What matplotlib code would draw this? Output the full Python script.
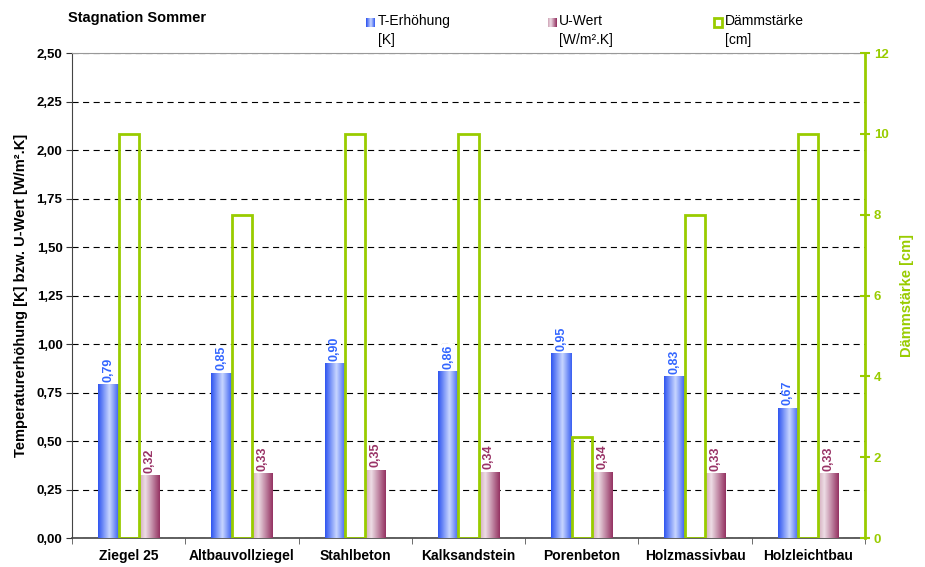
import numpy as np
import matplotlib
matplotlib.use('Agg')
import matplotlib.pyplot as plt
from matplotlib.colors import LinearSegmentedColormap
from matplotlib.patches import Rectangle
from matplotlib.ticker import FuncFormatter, MultipleLocator

plt.rcParams['font.family'] = ['Liberation Sans', 'DejaVu Sans']

# data
baustoffe = ['Ziegel 25', 'Altbauvollziegel', 'Stahlbeton', 'Kalksandstein',
             'Porenbeton', 'Holzmassivbau', 'Holzleichtbau']
t_erhoehung = [0.79, 0.85, 0.90, 0.86, 0.95, 0.83, 0.67]
u_wert = [0.32, 0.33, 0.35, 0.34, 0.34, 0.33, 0.33]
daemmstaerke = [10, 8, 10, 10, 2.5, 8, 10]

blue_text = '#3366ff'
maroon = '#993366'
green = '#99cc00'

blue_cmap = LinearSegmentedColormap.from_list(
    'blau', [(0, '#2f55f0'), (0.55, '#c8d6ff'), (1, '#3a60f2')])
maroon_cmap = LinearSegmentedColormap.from_list(
    'bordeaux', [(0, '#d2a8ba'), (0.3, '#eddde5'), (1, '#943262')])

fig = plt.figure(figsize=(9.25, 5.67), dpi=100)
ax = fig.add_axes([0.078, 0.051, 0.857, 0.8555])
ax2 = ax.twinx()

x = np.arange(len(baustoffe))
w = 0.18


def gradient_bars(axis, xs, vals, cmap):
    bars = axis.bar(xs, vals, w, color='none', linewidth=0, zorder=3)
    grad = np.linspace(0, 1, 64).reshape(1, -1)
    for b in bars:
        x0, y0 = b.get_x(), b.get_y()
        axis.imshow(grad, cmap=cmap, aspect='auto', zorder=3,
                    extent=(x0, x0 + b.get_width(), y0, y0 + b.get_height()),
                    interpolation='bilinear')
    return bars


gradient_bars(ax, x - w, t_erhoehung, blue_cmap)
gradient_bars(ax, x + w, u_wert, maroon_cmap)

label_box = dict(facecolor='white', edgecolor='none', pad=0.3)
for xi, v in zip(x - w, t_erhoehung):
    ax.text(xi, v + 0.014, f'{v:.2f}'.replace('.', ','), rotation=90,
            ha='center', va='bottom', fontsize=9, fontweight='bold',
            color=blue_text, zorder=5, bbox=label_box)
for xi, v in zip(x + w, u_wert):
    ax.text(xi, v + 0.014, f'{v:.2f}'.replace('.', ','), rotation=90,
            ha='center', va='bottom', fontsize=9, fontweight='bold',
            color=maroon, zorder=5, bbox=label_box)

ax2.bar(x, daemmstaerke, w, facecolor='none', edgecolor=green, linewidth=2)

# left axis
ax.set_xlim(-0.5, len(baustoffe) - 0.5)
ax.set_ylim(0, 2.5)
ax.yaxis.set_major_locator(MultipleLocator(0.25))
ax.yaxis.set_major_formatter(FuncFormatter(lambda v, p: f'{v:.2f}'.replace('.', ',')))
ax.grid(axis='y', color='black', linestyle=(0, (5.5, 4)), linewidth=0.8, zorder=0)
ax.set_axisbelow(True)
ax.tick_params(axis='y', direction='out', length=4, width=0.8, color='#333333',
               labelsize=9.5, pad=3)
for lab in ax.get_yticklabels():
    lab.set_fontweight('bold')
ax.set_ylabel('Temperaturerhöhung [K] bzw. U-Wert [W/m².K]', fontsize=10.5,
              fontweight='bold', labelpad=6)

ax.set_xticks(x)
ax.set_xticklabels(baustoffe, fontsize=10, fontweight='bold')
ax.tick_params(axis='x', length=0, pad=8)
ax.set_xticks(np.arange(len(baustoffe) + 1) - 0.5, minor=True)
ax.tick_params(axis='x', which='minor', direction='out', length=4, color='#555555')

ax.spines['left'].set_color('#444444')
ax.spines['bottom'].set_color('#444444')
ax.spines['bottom'].set_linewidth(1.2)
ax.spines['top'].set_color('#999999')
ax.spines['right'].set_visible(False)

# right axis
ax2.set_ylim(0, 12)
ax2.yaxis.set_major_locator(MultipleLocator(2))
ax2.tick_params(axis='y', direction='inout', length=7, width=1.5, colors=green,
                labelsize=9.5, pad=3)
for lab in ax2.get_yticklabels():
    lab.set_fontweight('bold')
ax2.spines['right'].set_color(green)
ax2.spines['right'].set_linewidth(2)
for s in ['left', 'top', 'bottom']:
    ax2.spines[s].set_visible(False)
ax2.set_ylabel('Dämmstärke [cm]', fontsize=10.5, fontweight='bold', color=green,
               labelpad=8)

fig.text(0.073, 0.968, 'Stagnation Sommer', fontsize=10.5, fontweight='bold',
         ha='left', va='center')

# legend
legend_items = [
    (0.396, blue_cmap, None, 'T-Erhöhung\n[K]'),
    (0.592, maroon_cmap, None, 'U-Wert\n[W/m².K]'),
    (0.771, None, green, 'Dämmstärke\n[cm]'),
]
for lx, cmap, edge, label in legend_items:
    if cmap is not None:
        iax = fig.add_axes([lx, 0.952, 0.0095, 0.016])
        iax.imshow(np.linspace(0, 1, 16).reshape(1, -1), cmap=cmap, aspect='auto')
        iax.axis('off')
    else:
        fig.patches.append(Rectangle((lx + 0.001, 0.953), 0.0085, 0.0145,
                                     transform=fig.transFigure,
                                     facecolor='white', edgecolor=edge, linewidth=2))
    fig.text(lx + 0.0125, 0.975, label, fontsize=10, ha='left', va='top',
             linespacing=1.4)

fig.savefig('out.png', dpi=100)
